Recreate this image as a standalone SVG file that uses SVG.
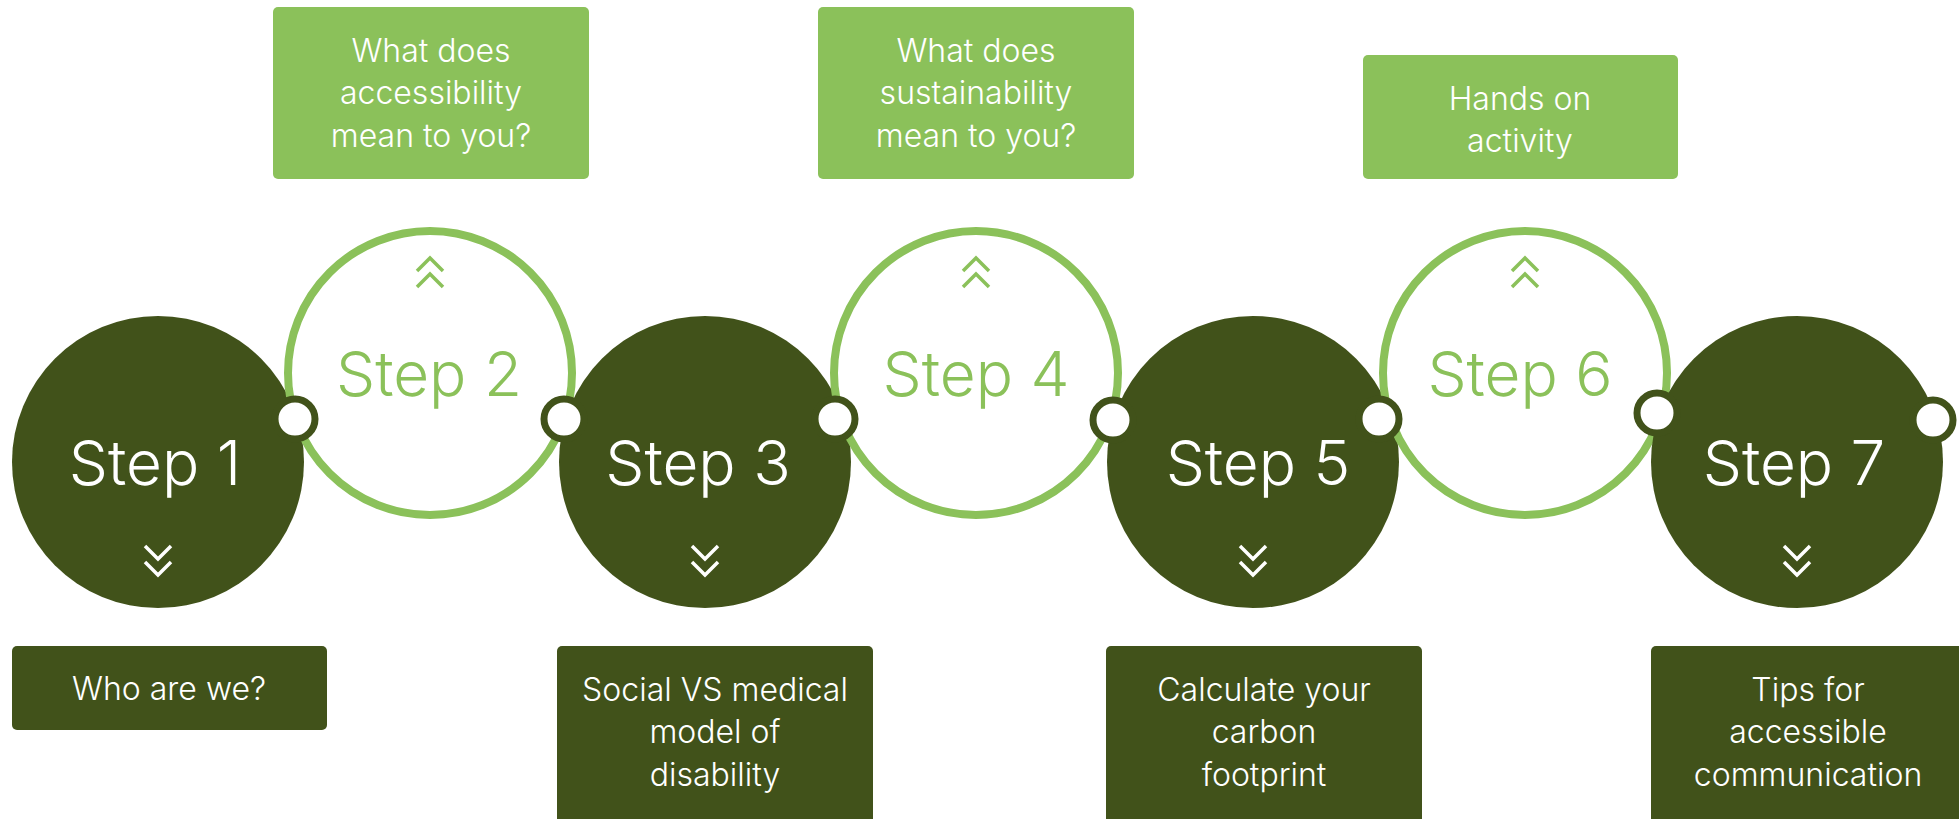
<svg xmlns="http://www.w3.org/2000/svg" width="1959" height="819" viewBox="0 0 1959 819">
<style>
.dark{fill:#41521a}
.ring{fill:#ffffff;stroke:#8bc15a;stroke-width:8}
.lbox{fill:#8bc15a}
.dbox{fill:#41521a}
.st{font-family:Inter,"Liberation Sans",sans-serif;font-size:62px;font-weight:300;text-anchor:middle}
.stw{fill:#ffffff}
.stg{fill:#8bc15a}
.bt{font-family:Inter,"Liberation Sans",sans-serif;font-size:32px;font-weight:300;fill:#ffffff;text-anchor:middle}
.chw{fill:none;stroke:#ffffff;stroke-width:3.5}
.chg{fill:none;stroke:#8bc15a;stroke-width:3.5}
.conn{fill:#ffffff;stroke:#41521a;stroke-width:7}
</style>
<rect width="1959" height="819" fill="#ffffff"/>
<g id="step1">
<circle class="dark" cx="158" cy="462" r="146"/>
<text class="st stw" x="155" y="485">Step 1</text>
<path class="chw" d="M145 546 L158 559 L171 546 M145 562 L158 575 L171 562"/>
</g>
<g id="step2">
<circle class="ring" cx="430" cy="373" r="142"/>
<text class="st stg" x="429" y="396">Step 2</text>
<path class="chg" d="M417 271 L430 258 L443 271 M417 287 L430 274 L443 287"/>
</g>
<g id="step3">
<circle class="dark" cx="705" cy="462" r="146"/>
<text class="st stw" x="698" y="485">Step 3</text>
<path class="chw" d="M692 546 L705 559 L718 546 M692 562 L705 575 L718 562"/>
</g>
<g id="step4">
<circle class="ring" cx="976" cy="373" r="142"/>
<text class="st stg" x="976" y="396">Step 4</text>
<path class="chg" d="M963 271 L976 258 L989 271 M963 287 L976 274 L989 287"/>
</g>
<g id="step5">
<circle class="dark" cx="1253" cy="462" r="146"/>
<text class="st stw" x="1258" y="485">Step 5</text>
<path class="chw" d="M1240 546 L1253 559 L1266 546 M1240 562 L1253 575 L1266 562"/>
</g>
<g id="step6">
<circle class="ring" cx="1525" cy="373" r="142"/>
<text class="st stg" x="1520" y="396">Step 6</text>
<path class="chg" d="M1512 271 L1525 258 L1538 271 M1512 287 L1525 274 L1538 287"/>
</g>
<g id="step7">
<circle class="dark" cx="1797" cy="462" r="146"/>
<text class="st stw" x="1794" y="485">Step 7</text>
<path class="chw" d="M1784 546 L1797 559 L1810 546 M1784 562 L1797 575 L1810 562"/>
</g>
<g id="connectors">
<circle class="conn" cx="295" cy="419" r="20"/>
<circle class="conn" cx="564" cy="419" r="20"/>
<circle class="conn" cx="835" cy="419" r="20"/>
<circle class="conn" cx="1113" cy="420" r="20"/>
<circle class="conn" cx="1379" cy="419" r="20"/>
<circle class="conn" cx="1657" cy="413" r="20"/>
<circle class="conn" cx="1933" cy="420" r="20"/>
</g>
<g id="box-step2">
<rect class="lbox" x="273" y="7" width="316" height="172" rx="5"/>
<text class="bt" x="431" y="62">What does</text>
<text class="bt" x="431" y="104">accessibility</text>
<text class="bt" x="431" y="147">mean to you?</text>
</g>
<g id="box-step4">
<rect class="lbox" x="818" y="7" width="316" height="172" rx="5"/>
<text class="bt" x="976" y="62">What does</text>
<text class="bt" x="976" y="104">sustainability</text>
<text class="bt" x="976" y="147">mean to you?</text>
</g>
<g id="box-step6">
<rect class="lbox" x="1363" y="55" width="315" height="124" rx="5"/>
<text class="bt" x="1520" y="110">Hands on</text>
<text class="bt" x="1520" y="152">activity</text>
</g>
<g id="box-step1">
<rect class="dbox" x="12" y="646" width="315" height="84" rx="5"/>
<text class="bt" x="169" y="700">Who are we?</text>
</g>
<g id="box-step3">
<rect class="dbox" x="557" y="646" width="316" height="190" rx="5"/>
<text class="bt" x="715" y="701">Social VS medical</text>
<text class="bt" x="715" y="743">model of</text>
<text class="bt" x="715" y="786">disability</text>
</g>
<g id="box-step5">
<rect class="dbox" x="1106" y="646" width="316" height="190" rx="5"/>
<text class="bt" x="1264" y="701">Calculate your</text>
<text class="bt" x="1264" y="743">carbon</text>
<text class="bt" x="1264" y="786">footprint</text>
</g>
<g id="box-step7">
<rect class="dbox" x="1651" y="646" width="316" height="190" rx="5"/>
<text class="bt" x="1808" y="701">Tips for</text>
<text class="bt" x="1808" y="743">accessible</text>
<text class="bt" x="1808" y="786">communication</text>
</g>
</svg>
